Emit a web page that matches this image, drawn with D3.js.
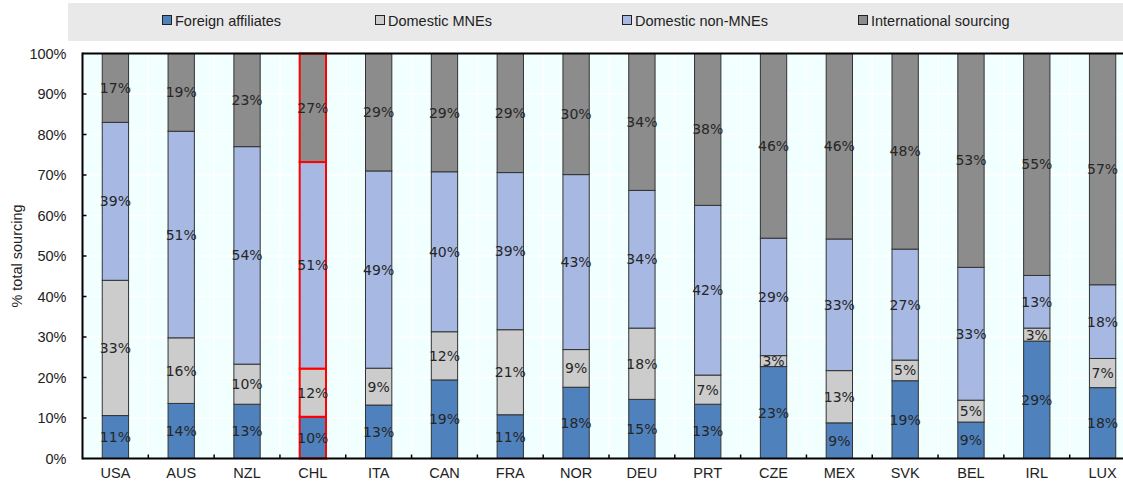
<!DOCTYPE html>
<html>
<head>
<meta charset="utf-8">
<script src="https://cdn.jsdelivr.net/npm/d3@7"></script>
<style>
  html, body { margin: 0; padding: 0; background: #ffffff; }
  svg { display: block; }
</style>
</head>
<body>
<svg id="chart" width="1123" height="483"></svg>
<script>
// Sourcing composition by country (% of total sourcing)
const countries = ["USA","AUS","NZL","CHL","ITA","CAN","FRA","NOR","DEU","PRT","CZE","MEX","SVK","BEL","IRL","LUX"];
const foreignAffiliates   = [10.6, 13.6, 13.4, 10.3, 13.2, 19.4, 10.8, 17.6, 14.6, 13.4, 22.7,  8.8, 19.2,  9.0, 29.0, 17.5];
const domesticMNEs        = [33.4, 16.2,  9.9, 11.9,  9.1, 11.9, 21.0,  9.3, 17.6,  7.2,  2.7, 12.9,  5.1,  5.4,  3.2,  7.2];
const domesticNonMNEs     = [39.0, 51.0, 53.7, 51.0, 48.7, 39.5, 38.8, 43.2, 34.0, 41.9, 29.0, 32.5, 27.4, 32.8, 13.0, 18.2];
const internationalSrc    = [17.0, 19.2, 23.0, 26.8, 29.0, 29.2, 29.4, 29.9, 33.8, 37.5, 45.6, 45.8, 48.3, 52.8, 54.8, 57.1];
const seriesNames = ["Foreign affiliates","Domestic MNEs","Domestic non-MNEs","International sourcing"];
const seriesColors = ["#4f81bd","#cccccc","#a7b9e3","#8c8c8c"];
const yTicks = [0,10,20,30,40,50,60,70,80,90,100];
const highlighted = "CHL";

const seriesValues = [foreignAffiliates, domesticMNEs, domesticNonMNEs, internationalSrc];
const keys = ["fa","dm","dn","is"];
const rows = countries.map((c, i) => {
  const r = { country: c };
  keys.forEach((k, j) => r[k] = seriesValues[j][i]);
  return r;
});
const stacked = d3.stack().keys(keys)(rows);

const svg = d3.select("#chart");
const W = 1123, H = 483;
const m = { left: 82.5, top: 53.5, bottom: 458.5, right: 1135.5 };

const x = d3.scaleBand().domain(countries).range([m.left, m.right]).paddingInner(0.6).paddingOuter(0.3);
const y = d3.scaleLinear().domain([0, 100]).range([m.bottom, m.top]);

// Legend band
svg.append("rect").attr("x", 68).attr("y", 3).attr("width", W - 68).attr("height", 38).attr("fill", "#e9e9e9");
const legendX = [162, 375, 622, 858];
const lg = svg.append("g").attr("font-family", "Liberation Sans, Arial, sans-serif").attr("font-size", 14.5).attr("fill", "#222");
seriesNames.forEach((name, i) => {
  lg.append("rect").attr("x", legendX[i] + 0.5).attr("y", 15.5).attr("width", 9).attr("height", 9)
    .attr("fill", seriesColors[i]).attr("stroke", "#222").attr("stroke-width", 1);
  lg.append("text").attr("x", legendX[i] + 13).attr("y", 25.5).text(name);
});

// Plot background and grid
const clip = svg.append("clipPath").attr("id", "plotclip");
clip.append("rect").attr("x", 0).attr("y", 0).attr("width", W).attr("height", H);
const plot = svg.append("g").attr("clip-path", "url(#plotclip)");
plot.append("rect").attr("x", m.left).attr("y", m.top).attr("width", m.right - m.left).attr("height", m.bottom - m.top).attr("fill", "#f1ffff");

const step = x.step();
const bounds = d3.range(countries.length + 1).map(i => m.left + i * step);
plot.append("g").selectAll("line.v").data(bounds.slice(1, -1)).join("line")
  .attr("x1", d => d).attr("x2", d => d).attr("y1", m.top).attr("y2", m.bottom)
  .attr("stroke", "#ffffff").attr("stroke-width", 1.5);
plot.append("g").selectAll("line.h").data(yTicks.slice(1, -1)).join("line")
  .attr("x1", m.left).attr("x2", m.right).attr("y1", d => y(d)).attr("y2", d => y(d))
  .attr("stroke", "#ffffff").attr("stroke-width", 1.5);

// Stacked bars
const layers = plot.append("g").selectAll("g").data(stacked).join("g").attr("fill", (d, i) => seriesColors[i]);
layers.selectAll("rect").data(d => d).join("rect")
  .attr("x", d => x(d.data.country))
  .attr("width", x.bandwidth())
  .attr("y", d => y(d[1]))
  .attr("height", d => y(d[0]) - y(d[1]))
  .attr("stroke", d => d.data.country === highlighted ? "#ff0000" : "#333333")
  .attr("stroke-width", d => d.data.country === highlighted ? 2 : 1);

// Value labels
const labels = plot.append("g").attr("font-family", "DejaVu Sans, Verdana, sans-serif").attr("font-size", 14).attr("fill", "#262626").attr("text-anchor", "middle");
stacked.forEach(layer => {
  labels.selectAll(null).data(layer).join("text")
    .attr("x", d => x(d.data.country) + x.bandwidth() / 2)
    .attr("y", d => y((d[0] + d[1]) / 2) + 5)
    .text(d => Math.round(d[1] - d[0]) + "%");
});

// Frame
const frame = svg.append("g").attr("stroke", "#000").attr("stroke-width", 2);
frame.append("line").attr("x1", m.left).attr("x2", W).attr("y1", m.top).attr("y2", m.top);
frame.append("line").attr("x1", m.left).attr("x2", W).attr("y1", m.bottom).attr("y2", m.bottom);
frame.append("line").attr("x1", m.left).attr("x2", m.left).attr("y1", m.top - 1).attr("y2", m.bottom + 1);

// Y axis
const yAxis = d3.axisLeft(y).tickValues(yTicks).tickSize(0).tickPadding(16).tickFormat(d => d + "%");
const ya = svg.append("g").attr("transform", `translate(${m.left},0)`).call(yAxis);
ya.select(".domain").remove();
ya.selectAll("text").attr("font-family", "Liberation Sans, Arial, sans-serif").attr("font-size", 14.5).attr("fill", "#222");
svg.append("g").selectAll("line").data(yTicks.slice(1, -1)).join("line")
  .attr("x1", m.left).attr("x2", m.left + 4).attr("y1", d => y(d)).attr("y2", d => y(d))
  .attr("stroke", "#000").attr("stroke-width", 1.5);

// X axis
const xAxis = d3.axisBottom(x).tickSize(0).tickPadding(9);
const xa = svg.append("g").attr("transform", `translate(0,${m.bottom})`).call(xAxis);
xa.select(".domain").remove();
xa.selectAll("text").attr("font-family", "Liberation Sans, Arial, sans-serif").attr("font-size", 14.5).attr("fill", "#222");
svg.append("g").selectAll("line").data(bounds.slice(1, -1)).join("line")
  .attr("x1", d => d).attr("x2", d => d).attr("y1", m.bottom).attr("y2", m.bottom - 4)
  .attr("stroke", "#000").attr("stroke-width", 1.5);

// Y axis title
svg.append("text")
  .attr("transform", `translate(22,${(m.top + m.bottom) / 2}) rotate(-90)`)
  .attr("text-anchor", "middle")
  .attr("font-family", "Liberation Sans, Arial, sans-serif").attr("font-size", 14.5).attr("fill", "#222")
  .text("% total sourcing");
</script>
</body>
</html>
